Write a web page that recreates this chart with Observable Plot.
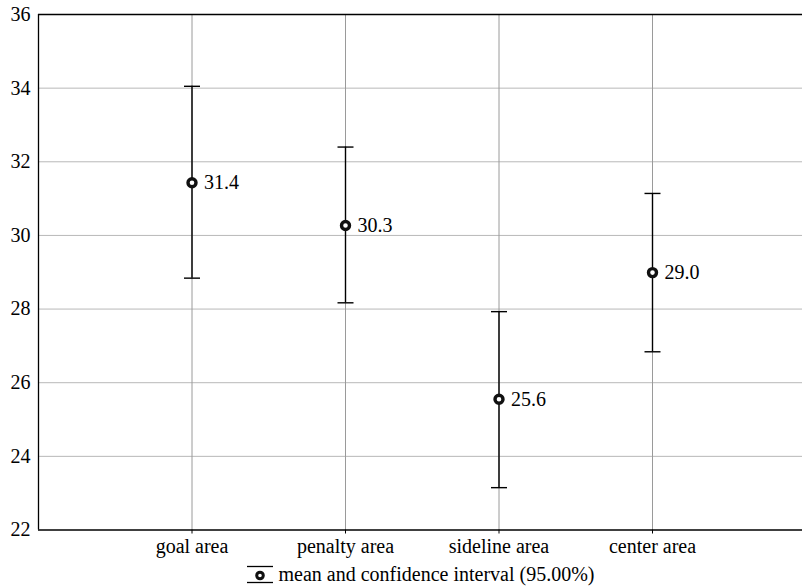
<!DOCTYPE html>
<html>
<head>
<meta charset="utf-8">
<script src="https://cdn.jsdelivr.net/npm/d3@7"></script>
<script src="https://cdn.jsdelivr.net/npm/@observablehq/plot@0.6"></script>
</head>
<body style="margin:0;padding:0;background:#fff;">
<div id="chart" style="width:802px;"></div>
<script>
const categories = ["goal area", "penalty area", "sideline area", "center area"];
const means = [31.43, 30.27, 25.55, 28.99];
const meanLabels = ["31.4", "30.3", "25.6", "29.0"];
const upper = [34.05, 32.40, 27.93, 31.14];
const lower = [28.84, 28.17, 23.15, 26.84];
const yTicks = [22, 24, 26, 28, 30, 32, 34, 36];
const legendLabel = "mean and confidence interval (95.00%)";

const data = categories.map((c, i) => ({
  cat: c, pos: i + 1, mean: means[i], label: meanLabels[i], hi: upper[i], lo: lower[i]
}));

const capSymbol = {
  draw(context, size) {
    const w = 8;
    context.moveTo(-w, 0);
    context.lineTo(w, 0);
  }
};

const chart = Plot.plot({
  width: 802,
  height: 560,
  marginLeft: 38,
  marginRight: 0,
  marginTop: 14,
  marginBottom: 30.5,
  style: { fontSize: "20px", color: "#000", background: "#fff" },
  x: { type: "linear", domain: [0, 764 / 153.5] },
  y: { domain: [22, 36] },
  marks: [
    Plot.gridY(yTicks.slice(1, -1), { stroke: "#b8b8b8", strokeOpacity: 1, strokeWidth: 1 }),
    Plot.gridX(data.map(d => d.pos), { stroke: "#9a9a9a", strokeOpacity: 1, strokeWidth: 1 }),
    Plot.axisY(yTicks, { tickSize: 0, tickPadding: 8, label: null, fontSize: 20 }),
    Plot.axisX(data.map(d => d.pos), {
      tickSize: 4, tickPadding: 5, label: null, fontSize: 20,
      tickFormat: p => categories[p - 1]
    }),
    Plot.ruleY([22, 36], { stroke: "#000", strokeWidth: 1.3 }),
    Plot.ruleX([0], { stroke: "#000", strokeWidth: 1.3 }),
    Plot.ruleX(data, { x: "pos", y1: "lo", y2: "hi", stroke: "#000", strokeWidth: 1.4 }),
    Plot.dot(data, { x: "pos", y: "hi", symbol: capSymbol, stroke: "#000", strokeWidth: 1.4, fill: "none" }),
    Plot.dot(data, { x: "pos", y: "lo", symbol: capSymbol, stroke: "#000", strokeWidth: 1.4, fill: "none" }),
    Plot.dot(data, { x: "pos", y: "mean", r: 4, stroke: "#111", strokeWidth: 3.4, fill: "#fff" }),
    Plot.text(data, { x: "pos", y: "mean", text: "label", dx: 12, textAnchor: "start", fontSize: 20, fill: "#000" })
  ]
});
chart.removeAttribute("font-family");
document.getElementById("chart").appendChild(chart);

const legend = document.createElement("div");
legend.setAttribute("style", "width:802px;height:28px;display:flex;justify-content:center;align-items:center;font-size:20px;color:#000;");
legend.innerHTML = `<div style="margin-left:38px;display:flex;align-items:center;">
  <svg width="28" height="22" viewBox="0 0 28 22" style="margin-right:5px;">
    <line x1="1" x2="27" y1="3.5" y2="3.5" stroke="#000" stroke-width="1.3"/>
    <circle cx="14" cy="12.5" r="3.3" fill="#fff" stroke="#111" stroke-width="3"/>
    <line x1="1" x2="27" y1="19.5" y2="19.5" stroke="#000" stroke-width="1.3"/>
  </svg><span></span></div>`;
legend.querySelector("span").textContent = legendLabel;
document.body.appendChild(legend);
</script>
</body>
</html>
